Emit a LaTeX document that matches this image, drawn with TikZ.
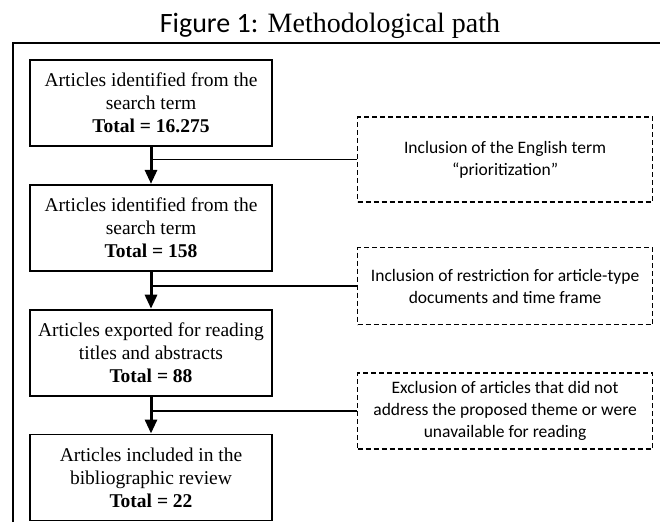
\documentclass[tikz,border=0pt]{standalone}
\usepackage{fontspec}
\setmainfont{Liberation Serif}
\setsansfont{Carlito}
\usetikzlibrary{positioning, arrows.meta, calc}

\begin{document}
\begin{tikzpicture}[
 x=1pt, y=-1pt,
 node distance=37pt,
 stage/.style={draw, rectangle, line width=1.8pt, minimum width=242pt, minimum height=86pt, align=center, inner sep=2pt, font=\rmfamily\fontsize{19.5}{23}\selectfont},
 filter/.style={draw, rectangle, line width=1.2pt, dash pattern=on 5pt off 3pt, minimum width=295pt, align=center, inner sep=2pt, font=\sffamily\fontsize{17.5}{22}\selectfont},
 arrow/.style={-{Triangle[length=14pt, width=12pt]}, line width=3pt},
 link/.style={-, line width=1.6pt},
 ]

  \useasboundingbox (0,0) rectangle (660,522);

  % Title and frame
  \node[font=\fontsize{28}{32}\selectfont, anchor=base] at (330,32) (title) {{\sffamily Figure 1:} Methodological path};
  \draw[line width=2.5pt] (13,522) -- (13,43) -- (660,43);

  % Stages of the path
  \node[stage] at (151,103) (found) {Articles identified from the\\search term\\\textbf{Total = 16.275}};
  \node[stage, below=of found] (kept) {Articles identified from the\\search term\\\textbf{Total = 158}};
  \node[stage, below=of kept] (exported) {Articles exported for reading\\titles and abstracts\\\textbf{Total = 88}};
  \node[stage, below=of exported] (included) {Articles included in the\\bibliographic review\\\textbf{Total = 22}};

  % Filters beside the arrows
  \node[filter, minimum height=85pt, anchor=west] at ($(found.south)!0.5!(kept.north)+(206,-6)$) (term) {Inclusion of the English term\\“prioritization”};
  \node[filter, minimum height=77pt, anchor=west] at ($(kept.south)!0.5!(exported.north)+(206,-4)$) (restrict) {Inclusion of restriction for article-type\\documents and time frame};
  \node[filter, minimum height=76pt, anchor=west] at ($(exported.south)!0.5!(included.north)+(206,-4)$) (exclude) {Exclusion of articles that did not\\address the proposed theme or were\\unavailable for reading};

  % Links from the filters
  \draw[link] (term.west) -- (term.west -| found.south);
  \draw[link] (restrict.west) -- (restrict.west -| kept.south);
  \draw[link] (exclude.west) -- (exclude.west -| exported.south);

  % Forward arrows
  \draw[arrow] (found) -- (kept);
  \draw[arrow] (kept) -- (exported);
  \draw[arrow] (exported) -- (included);

\end{tikzpicture}
\end{document}
